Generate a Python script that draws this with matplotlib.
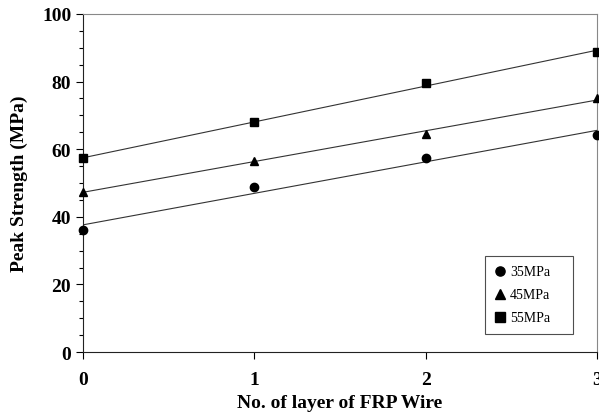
import matplotlib.pyplot as plt
import numpy as np
from matplotlib.ticker import MultipleLocator

# layers of FRP wire and peak strength (MPa)
layers = [0, 1, 2, 3]
strength_35 = [36.1, 48.7, 57.3, 64.3]
strength_45 = [47.4, 56.6, 64.5, 75.1]
strength_55 = [57.3, 67.9, 79.5, 88.8]
series_labels = ['35MPa', '45MPa', '55MPa']
series_markers = ['o', '^', 's']


def main():
    plt.rcParams['font.family'] = ['Liberation Serif', 'DejaVu Serif']

    fig = plt.figure(figsize=(5.99, 4.14), dpi=100)
    ax = fig.add_axes([0.1386, 0.1473, 0.8581, 0.8165])

    x = np.array(layers)
    for values, label, marker in zip([strength_35, strength_45, strength_55],
                                     series_labels, series_markers):
        # linear trend line through each series
        slope, intercept = np.polyfit(x, values, 1)
        ax.plot(x, slope * x + intercept, color='#333333', lw=0.8, zorder=2)
        ax.plot(x, values, linestyle='none', marker=marker, color='black',
                markersize=6, label=label, clip_on=False, zorder=3)

    ax.set_xlim(0, 3)
    ax.set_ylim(0, 100)
    ax.xaxis.set_major_locator(MultipleLocator(1))
    ax.yaxis.set_major_locator(MultipleLocator(20))
    ax.yaxis.set_minor_locator(MultipleLocator(5))
    ax.tick_params(axis='both', which='major', direction='out', length=5,
                   width=0.8, labelsize=14)
    ax.tick_params(axis='y', which='minor', direction='out', length=3, width=0.8)
    ax.tick_params(axis='x', pad=9)
    for lab in ax.get_xticklabels() + ax.get_yticklabels():
        lab.set_fontweight('bold')

    ax.spines['top'].set_color('#888888')
    ax.spines['right'].set_color('#888888')
    ax.spines['left'].set_color('#222222')
    ax.spines['bottom'].set_color('#222222')

    ax.set_xlabel('No. of layer of FRP Wire', fontsize=14, fontweight='bold',
                  labelpad=4)
    ax.set_ylabel('Peak Strength (MPa)', fontsize=14, fontweight='bold',
                  labelpad=10)

    # legend box stretched to the width seen in the reference
    leg = ax.legend(loc='lower left', bbox_to_anchor=(0.782, 0.053, 0.171, 0.222),
                    mode='expand', borderaxespad=0,
                    fontsize=10, frameon=True, fancybox=False, handlelength=0.8,
                    handletextpad=0.3, labelspacing=0.72, borderpad=0.7,
                    markerscale=1.1)
    leg.get_frame().set_edgecolor('#222222')
    leg.get_frame().set_linewidth(0.8)

    fig.savefig('out.png', dpi=100)


if __name__ == "__main__":
    main()
